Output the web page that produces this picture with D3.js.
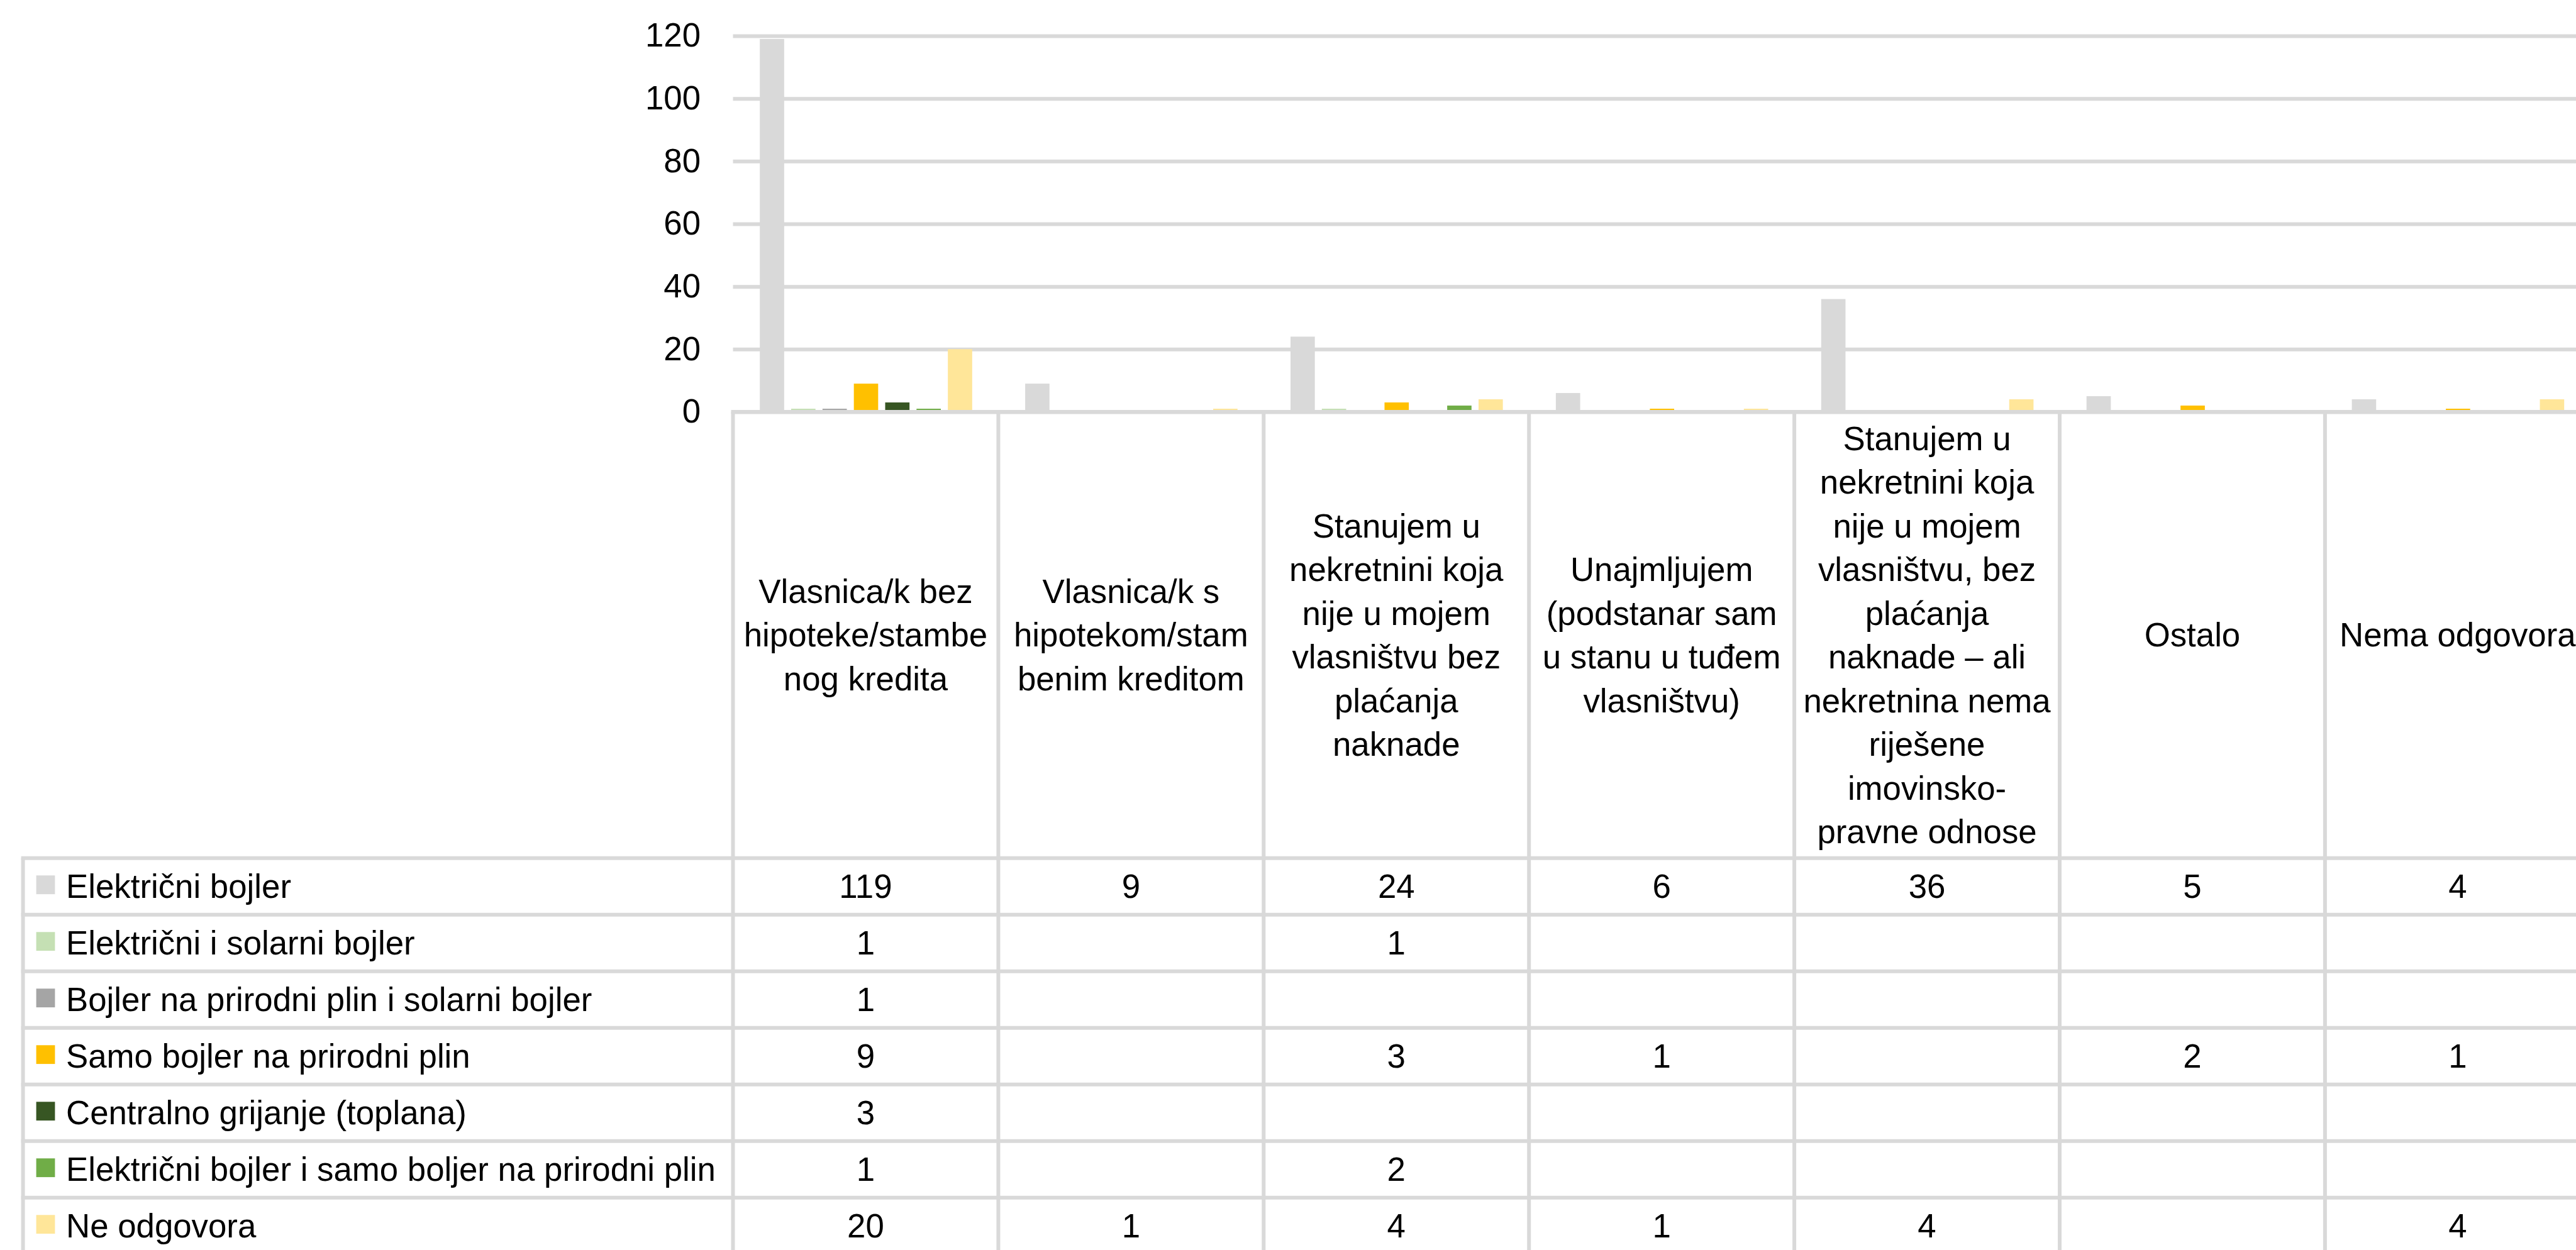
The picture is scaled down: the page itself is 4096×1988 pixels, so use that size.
<!DOCTYPE html>
<html>
<head>
<meta charset="utf-8">
<script src="https://cdn.jsdelivr.net/npm/d3@7"></script>
<style>
  html, body { margin: 0; padding: 0; background: #ffffff; overflow: hidden; }
  svg { display: block; }
  text { font-family: "Liberation Sans", Arial, sans-serif; fill: #000000; }
</style>
</head>
<body>
<svg id="chart" width="4096" height="1988"></svg>
<script>
// Housing status categories (x axis) and their wrapped header lines
const categories = [
  "Vlasnica/k bez hipoteke/stambenog kredita",
  "Vlasnica/k s hipotekom/stambenim kreditom",
  "Stanujem u nekretnini koja nije u mojem vlasništvu bez plaćanja naknade",
  "Unajmljujem (podstanar sam u stanu u tuđem vlasništvu)",
  "Stanujem u nekretnini koja nije u mojem vlasništvu, bez plaćanja naknade – ali nekretnina nema riješene imovinsko-pravne odnose",
  "Ostalo",
  "Nema odgovora"
];
const categoryLines = [
  ["Vlasnica/k bez", "hipoteke/stambe", "nog kredita"],
  ["Vlasnica/k s", "hipotekom/stam", "benim kreditom"],
  ["Stanujem u", "nekretnini koja", "nije u mojem", "vlasništvu bez", "plaćanja", "naknade"],
  ["Unajmljujem", "(podstanar sam", "u stanu u tuđem", "vlasništvu)"],
  ["Stanujem u", "nekretnini koja", "nije u mojem", "vlasništvu, bez", "plaćanja", "naknade – ali", "nekretnina nema", "riješene", "imovinsko-", "pravne odnose"],
  ["Ostalo"],
  ["Nema odgovora"]
];

// Water heating types (series)
const seriesNames = [
  "Električni bojler",
  "Električni i solarni bojler",
  "Bojler na prirodni plin i solarni bojler",
  "Samo bojler na prirodni plin",
  "Centralno grijanje (toplana)",
  "Električni bojler i samo boljer na prirodni plin",
  "Ne odgovora"
];
const seriesColors = ["#d9d9d9", "#c5e0b4", "#a5a5a5", "#ffc000", "#375623", "#70ad47", "#ffe699"];

// Counts per category (null = empty cell)
const elektricniBojler       = [119, 9, 24, 6, 36, 5, 4];
const elektricniSolarni      = [1, null, 1, null, null, null, null];
const plinSolarni            = [1, null, null, null, null, null, null];
const samoPlin               = [9, null, 3, 1, null, 2, 1];
const centralnoGrijanje      = [3, null, null, null, null, null, null];
const elektricniPlin         = [1, null, 2, null, null, null, null];
const neOdgovora             = [20, 1, 4, 1, 4, null, 4];
const seriesValues = [elektricniBojler, elektricniSolarni, plinSolarni, samoPlin,
                      centralnoGrijanje, elektricniPlin, neOdgovora];

const yTicks = [0, 20, 40, 60, 80, 100, 120];

// ---- layout ----
const W = 4096, H = 1988;
const fontSize = 52.8;
const lineColor = "#d9d9d9";
const lineW = 6;
const plotLeft = 1165.5;
const colW = 421.9;
const plotRight = plotLeft + colW * categories.length;
const yZero = 655, yTop = 57;
const headerBottom = 1364.8;
const rowH = 90;
const tableLeft = 36.6;

const svg = d3.select("#chart");
svg.append("rect").attr("width", W).attr("height", H).attr("fill", "#ffffff");

const x0 = d3.scaleBand().domain(categories).range([plotLeft, plotRight]).padding(0);
const x1 = d3.scaleBand().domain(seriesNames).range([37.1, 385.9]).paddingInner(0.224).paddingOuter(0.112);
const y = d3.scaleLinear().domain([0, 120]).range([yZero, yTop]);

// gridlines
const grid = svg.append("g")
  .attr("transform", `translate(${plotLeft},0)`)
  .call(d3.axisLeft(y).tickValues(yTicks).tickSize(-(plotRight - plotLeft)).tickFormat(""));
grid.select(".domain").remove();
grid.selectAll("line").attr("stroke", lineColor).attr("stroke-width", lineW);

// y tick labels
const yAxis = svg.append("g")
  .attr("transform", `translate(${plotLeft},0)`)
  .call(d3.axisLeft(y).tickValues(yTicks).tickSize(0).tickPadding(51.5));
yAxis.select(".domain").remove();
yAxis.selectAll("text")
  .attr("font-size", fontSize)
  .attr("font-family", "'Liberation Sans', Arial, sans-serif")
  .attr("fill", "#000");

// bars
const groups = svg.append("g").selectAll("g")
  .data(categories)
  .join("g")
  .attr("transform", d => `translate(${x0(d)},0)`);

groups.selectAll("rect")
  .data((d, ci) => seriesNames.map((s, si) => ({ s, v: seriesValues[si][ci], c: seriesColors[si] })))
  .join("rect")
  .filter(d => d.v != null)
  .attr("x", d => x1(d.s))
  .attr("width", x1.bandwidth())
  .attr("y", d => y(d.v))
  .attr("height", d => y(0) - y(d.v))
  .attr("fill", d => d.c);

// ---- data table ----
const table = svg.append("g");
const tableBottom = headerBottom + rowH * seriesNames.length;

// horizontal lines: axis line at zero, header bottom and row separators
table.append("line")
  .attr("x1", plotLeft - lineW / 2).attr("x2", W + 50)
  .attr("y1", yZero).attr("y2", yZero)
  .attr("stroke", lineColor).attr("stroke-width", lineW);
d3.range(seriesNames.length + 1).forEach(i => {
  const yy = headerBottom + i * rowH;
  table.append("line")
    .attr("x1", tableLeft - lineW / 2).attr("x2", W + 50)
    .attr("y1", yy).attr("y2", yy)
    .attr("stroke", lineColor).attr("stroke-width", lineW);
});

// vertical column lines
d3.range(categories.length + 1).forEach(i => {
  const xx = plotLeft + i * colW;
  table.append("line")
    .attr("x1", xx).attr("x2", xx)
    .attr("y1", yZero).attr("y2", tableBottom)
    .attr("stroke", lineColor).attr("stroke-width", lineW);
});
table.append("line")
  .attr("x1", tableLeft).attr("x2", tableLeft)
  .attr("y1", headerBottom).attr("y2", tableBottom)
  .attr("stroke", lineColor).attr("stroke-width", lineW);

// category header labels
const headerMid = (yZero + headerBottom) / 2;
const lineStep = 69.5;
categories.forEach((cat, ci) => {
  const lines = categoryLines[ci];
  const cx = x0(cat) + colW / 2;
  const t = table.append("text")
    .attr("text-anchor", "middle")
    .attr("font-size", fontSize);
  lines.forEach((ln, li) => {
    t.append("tspan")
      .attr("x", cx)
      .attr("y", headerMid + (li - (lines.length - 1) / 2) * lineStep)
      .attr("dy", "0.35em")
      .text(ln);
  });
});

// row legend keys, names and values
seriesNames.forEach((name, si) => {
  const cy = headerBottom + si * rowH + rowH / 2;
  table.append("rect")
    .attr("x", 57.6).attr("y", cy - 17.5)
    .attr("width", 29.8).attr("height", 29.8)
    .attr("fill", seriesColors[si]);
  table.append("text")
    .attr("x", 105).attr("y", cy).attr("dy", "0.35em")
    .attr("font-size", fontSize)
    .text(name);
  categories.forEach((cat, ci) => {
    const v = seriesValues[si][ci];
    if (v == null) return;
    table.append("text")
      .attr("x", x0(cat) + colW / 2).attr("y", cy).attr("dy", "0.35em")
      .attr("text-anchor", "middle")
      .attr("font-size", fontSize)
      .text(v);
  });
});
</script>
</body>
</html>
